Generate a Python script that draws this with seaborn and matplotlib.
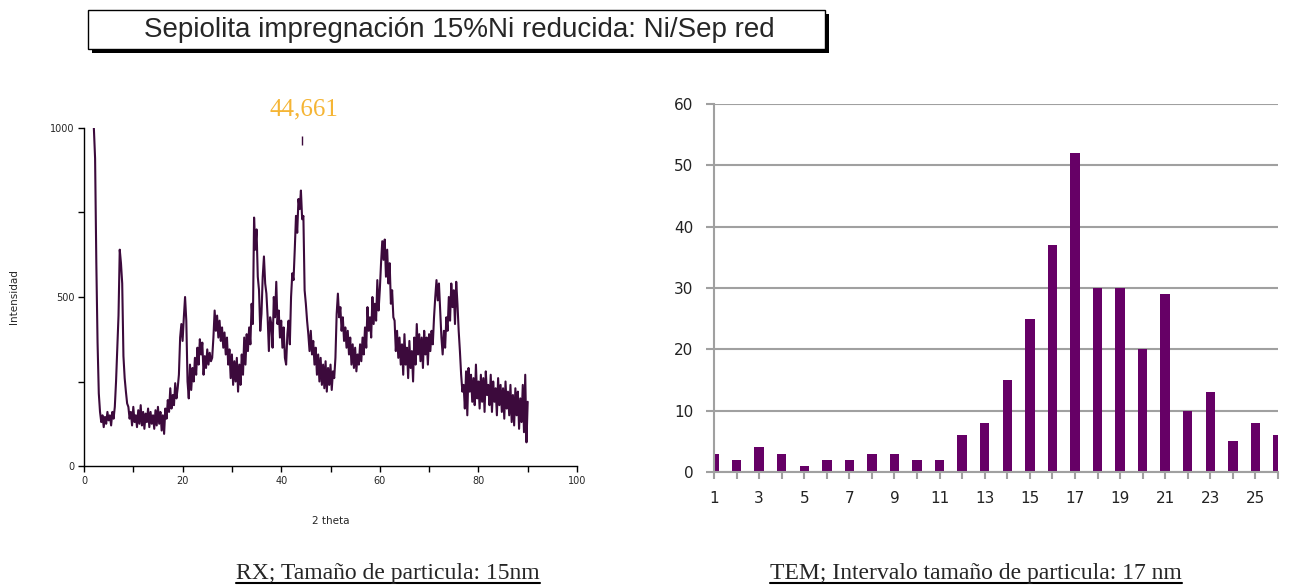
import numpy as np
import pandas as pd
import matplotlib
matplotlib.use("Agg")
import matplotlib.pyplot as plt
import seaborn as sns
from matplotlib.patches import Rectangle
from matplotlib.lines import Line2D
from matplotlib.ticker import MultipleLocator, FixedLocator

# XRD pattern, 2 theta from 2 to 90 in quarter-degree steps
intensity = [
    1000, 910, 600, 365,
    215, 160, 130, 150,
    115, 145, 125, 160,
    135, 150, 120, 160,
    140, 175, 250, 345,
    445, 640, 600, 540,
    325, 260, 220, 185,
    175, 140, 160, 120,
    175, 130, 150, 115,
    165, 125, 180, 120,
    160, 110, 155, 130,
    170, 115, 160, 125,
    150, 110, 165, 120,
    175, 125, 160, 105,
    150, 95, 170, 140,
    195, 160, 230, 170,
    210, 180, 245, 200,
    230, 270, 380, 420,
    370, 440, 500, 430,
    250, 200, 300, 225,
    290, 250, 320, 270,
    350, 300, 375, 330,
    365, 270, 325, 290,
    345, 300, 335, 310,
    320, 380, 460, 400,
    445, 380, 430, 370,
    410, 350, 395, 330,
    380, 300, 345, 260,
    330, 240, 310, 250,
    320, 220, 300, 240,
    330, 270, 380, 300,
    390, 340, 410, 360,
    480, 420, 735, 640,
    700, 560, 520, 400,
    450, 560, 620, 540,
    510, 440, 340, 440,
    420, 350, 500, 440,
    545, 420, 460, 380,
    430, 350, 410, 320,
    300, 390, 430, 360,
    500, 570, 550, 640,
    740, 690, 790, 760,
    815, 730, 740, 520,
    480, 430, 390, 340,
    400, 330, 370, 300,
    350, 270, 330, 250,
    320, 240, 300, 230,
    310, 220, 290, 240,
    300, 225, 280, 260,
    320, 450, 510, 440,
    470, 400, 440, 370,
    410, 350, 400, 330,
    380, 300, 360, 290,
    350, 280, 330, 300,
    360, 310, 380, 330,
    410, 350, 470, 400,
    440, 380, 500, 420,
    480, 430, 550, 460,
    520, 600, 665, 610,
    670, 560, 640, 540,
    600, 480, 520, 440,
    430, 340, 400, 320,
    380, 300, 360, 270,
    390, 300, 350, 260,
    370, 290, 340, 250,
    380, 300, 420, 330,
    390, 310, 380, 290,
    400, 330, 380, 300,
    390, 340, 400, 360,
    440, 500, 550, 490,
    540, 460, 380, 330,
    400, 350, 440, 400,
    500, 430, 540, 470,
    520, 420, 545, 480,
    400, 340, 270, 220,
    240, 170, 280, 150,
    290, 220, 270, 190,
    260, 180, 300, 200,
    250, 170, 270, 190,
    260, 160, 280, 210,
    240, 180, 270, 160,
    250, 190, 230, 150,
    260, 180, 240, 160,
    230, 140, 250, 170,
    220, 150, 240, 130,
    210, 120, 230, 150,
    220, 110, 200, 130,
    240, 100, 270, 70,
    190,
]
theta_start, theta_end = 2, 90
peak_label = "44,661"
peak_pos = 44.661

# TEM particle size histogram
sizes = list(range(1, 27))
counts = [3, 2, 4, 3, 1, 2, 2, 3, 3, 2, 2, 6, 8, 15, 25, 37, 52, 30, 30, 20, 29, 10, 13, 5, 8, 6]

title = "Sepiolita impregnación 15%Ni reducida: Ni/Sep red"
caption_left = "RX; Tamaño de particula: 15nm"
caption_right = "TEM; Intervalo tamaño de particula: 17 nm"

W, H = 1289, 588


def fx(px):
    return px / W


def fy(py):
    return 1 - py / H


sns.set_style("white")
plt.rcParams["font.family"] = ["DejaVu Sans"]

fig = plt.figure(figsize=(W / 100, H / 100), dpi=100)

# ---- left: XRD pattern
ax1 = fig.add_axes([fx(84), fy(466), fx(577) - fx(84), fy(128) - fy(466)])
xrd = pd.DataFrame({
    "theta": np.linspace(theta_start, theta_end, len(intensity)),
    "intensity": intensity,
})
sns.lineplot(data=xrd, x="theta", y="intensity", ax=ax1, color="#3c0a3c",
             lw=1.5, estimator=None, sort=False)
ax1.set_xlim(0, 100)
ax1.set_ylim(0, 1000)
ax1.xaxis.set_major_locator(MultipleLocator(20))
ax1.xaxis.set_minor_locator(MultipleLocator(10))
ax1.yaxis.set_major_locator(MultipleLocator(500))
ax1.yaxis.set_minor_locator(MultipleLocator(250))
ax1.tick_params(which="both", direction="out", length=4, width=1, color="black",
                labelsize=7, pad=3, bottom=True, left=True)
for s in ["top", "right"]:
    ax1.spines[s].set_visible(False)
for s in ["left", "bottom"]:
    ax1.spines[s].set_color("black")
    ax1.spines[s].set_linewidth(1)
ax1.set_xlabel("2 theta", fontsize=7.5, labelpad=22)
ax1.set_ylabel("Intensidad", fontsize=7.5, labelpad=22)
ax1.text(peak_pos, 1055, peak_label, color="#f5b535", fontsize=18,
         family="Liberation Serif", ha="center", va="center", clip_on=False)
ax1.vlines(peak_pos - 0.4, 950, 975, color="#3c0a3c", lw=1, clip_on=False)

# ---- right: TEM histogram
ax2 = fig.add_axes([fx(714), fy(472), fx(1278) - fx(714), fy(104) - fy(472)])
tem = pd.DataFrame({"size": sizes, "count": counts})
sns.barplot(data=tem, x="size", y="count", ax=ax2, native_scale=True,
            color="#660066", saturation=1, width=0.42, linewidth=0)
ax2.set_xlim(1, 26)
ax2.set_ylim(0, 60)
ax2.yaxis.set_major_locator(MultipleLocator(10))
ax2.grid(axis="y", color="#a0a0a0", lw=1.5)
ax2.set_axisbelow(True)
ax2.xaxis.set_major_locator(FixedLocator(sizes))
ax2.set_xticklabels([str(s) if s % 2 == 1 else "" for s in sizes])
ax2.tick_params(axis="y", direction="out", length=6, width=1.5, color="#a0a0a0",
                labelsize=11, labelcolor="#222222", pad=9, left=True)
ax2.tick_params(axis="x", direction="out", length=5, width=1.5, color="#a0a0a0",
                labelsize=11, labelcolor="#222222", pad=9, bottom=True)
for s in ["top", "right"]:
    ax2.spines[s].set_visible(False)
for s in ["left", "bottom"]:
    ax2.spines[s].set_color("#a0a0a0")
    ax2.spines[s].set_linewidth(1.5)
ax2.set_xlabel("")
ax2.set_ylabel("")

# ---- title box with shadow
shadow = Rectangle((fx(92), fy(53)), fx(829) - fx(92), fy(14) - fy(53),
                   transform=fig.transFigure, facecolor="black", edgecolor="none")
box = Rectangle((fx(88), fy(49)), fx(825) - fx(88), fy(10) - fy(49),
                transform=fig.transFigure, facecolor="white", edgecolor="black", lw=1)
fig.add_artist(shadow)
fig.add_artist(box)
fig.text(fx(459), fy(30), title, family="Liberation Sans", fontsize=20,
         ha="center", va="center")

# ---- underlined captions
renderer = fig.canvas.get_renderer()
for cx, txt in [(388, caption_left), (976, caption_right)]:
    t = fig.text(fx(cx), fy(573), txt, family="Liberation Serif", fontsize=17,
                 ha="center", va="center")
    bb = t.get_window_extent(renderer=renderer)
    uy = bb.y0 / H + 0.5 / H
    fig.add_artist(Line2D([bb.x0 / W, bb.x1 / W], [uy, uy], color="black", lw=1.5,
                          transform=fig.transFigure))

fig.savefig("out.png", dpi=100)
